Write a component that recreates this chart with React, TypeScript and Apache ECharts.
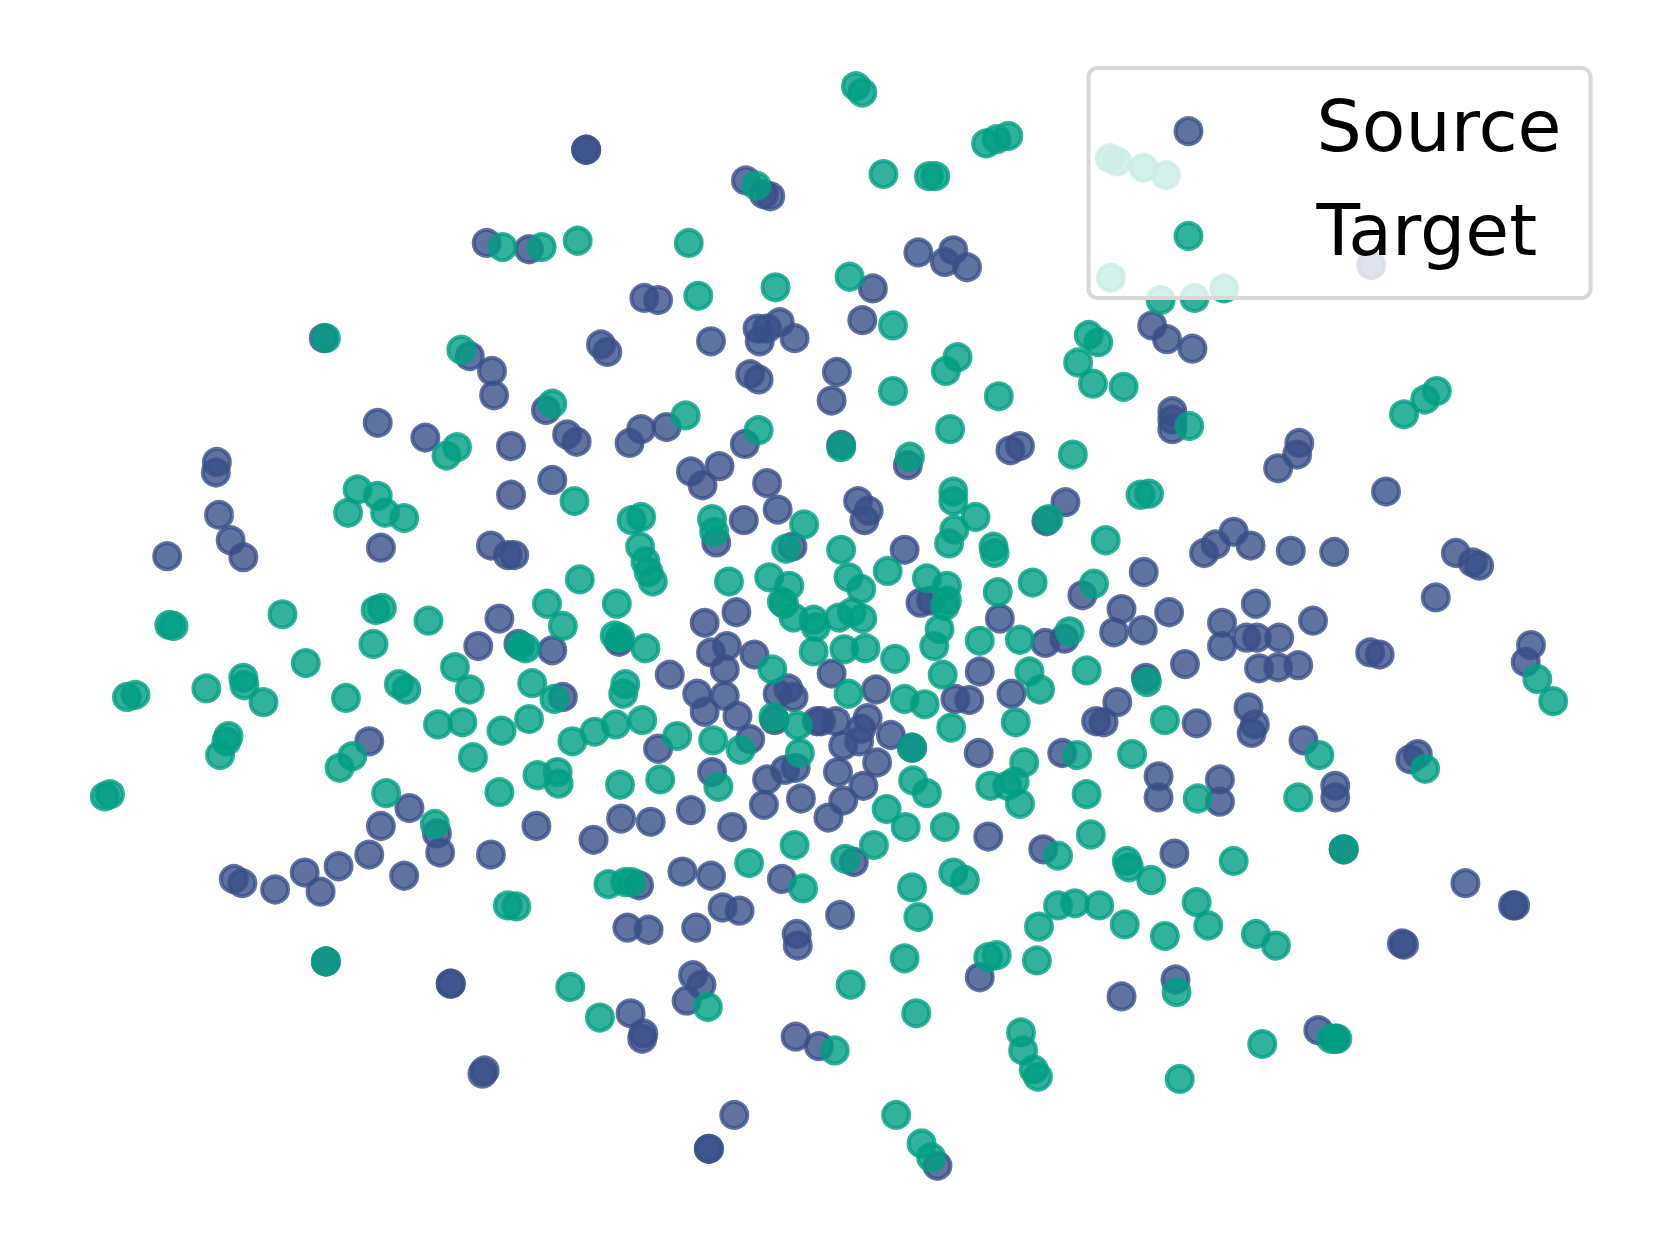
import React, { useEffect, useRef } from "react";
import * as echarts from "echarts";

const sourcePoints: number[][] = [
[554,141],[554,141],[705,170],[722,183],[728,185],[460,229],[500,235],[868,238],[901,236],[893,247],[914,252],[825,272],[609,281],[622,283],[1296,250],[815,302],[1089,307],[1103,320],[1127,329],[716,310],[737,304],[725,310],[718,322],[751,319],[672,322],[568,325],[574,332],[444,336],[465,350],[467,373],[709,353],[717,358],[791,351],[786,378],[516,387],[357,399],[402,413],[483,421],[536,410],[545,417],[595,418],[606,405],[630,403],[704,419],[795,420],[858,439],[955,425],[964,421],[1108,388],[1108,396],[1108,405],[1228,418],[1226,429],[1208,442],[205,436],[204,446],[653,445],[680,440],[664,458],[725,456],[522,453],[483,467],[1310,464],[811,473],[1007,474],[207,486],[735,481],[821,482],[817,491],[703,491],[218,510],[230,526],[158,525],[360,517],[464,515],[480,524],[486,524],[677,512],[749,516],[855,519],[1166,502],[1149,514],[1138,522],[1182,515],[1220,520],[1261,521],[1376,522],[1392,531],[1398,534],[1081,540],[1023,562],[870,569],[880,567],[1357,564],[1187,570],[1060,575],[1105,578],[1155,588],[1241,586],[945,584],[696,578],[666,588],[472,584],[1053,597],[1080,595],[1006,603],[988,607],[1155,610],[1178,602],[1188,602],[1209,602],[452,610],[585,606],[522,614],[490,608],[672,616],[687,610],[1295,616],[1304,618],[1447,609],[1442,625],[1120,627],[1190,631],[1208,630],[1227,628],[713,618],[685,632],[633,637],[786,636],[926,634],[1083,640],[659,655],[685,657],[828,651],[735,655],[750,658],[745,650],[956,655],[903,660],[916,661],[532,658],[1056,663],[1180,668],[666,672],[697,676],[732,680],[772,681],[776,681],[790,681],[820,678],[814,688],[1036,681],[1043,682],[1131,683],[1186,684],[1183,692],[349,700],[709,698],[842,694],[797,704],[812,700],[622,707],[1232,699],[862,706],[925,711],[1004,711],[1340,712],[1333,717],[829,720],[673,729],[742,727],[752,725],[792,729],[1095,733],[1153,736],[725,736],[1262,742],[1262,753],[1095,753],[1153,757],[757,754],[816,742],[797,756],[722,760],[653,765],[387,763],[360,780],[587,773],[615,776],[783,772],[692,781],[507,780],[413,787],[416,805],[561,793],[934,790],[349,807],[464,807],[986,802],[1110,806],[807,814],[320,818],[288,824],[382,827],[221,830],[229,834],[260,840],[303,842],[645,823],[672,827],[739,830],[604,836],[1385,834],[1270,802],[1430,855],[1432,855],[683,857],[699,860],[794,864],[593,876],[613,878],[658,876],[753,882],[754,893],[1325,891],[1327,892],[655,921],[663,930],[649,945],[926,923],[1111,925],[1060,941],[426,929],[426,929],[596,957],[608,976],[607,981],[752,979],[774,988],[1246,973],[1262,981],[458,1011],[456,1014],[694,1053],[670,1085],[670,1085],[886,1101],[306,319],[308,908],[989,492]
];

const targetPoints: number[][] = [
[809,81],[815,87],[932,135],[942,131],[953,128],[835,164],[878,166],[884,166],[1049,149],[1056,152],[1081,158],[1102,165],[715,175],[475,233],[512,233],[546,227],[651,229],[803,261],[733,271],[660,279],[1050,262],[1097,283],[1129,281],[1157,272],[844,307],[1029,316],[1038,323],[308,319],[436,330],[905,337],[894,350],[1019,342],[1033,362],[1062,365],[844,369],[944,374],[1358,369],[1347,377],[1327,391],[522,381],[648,392],[1124,402],[717,406],[898,405],[432,422],[422,430],[795,422],[1014,429],[860,431],[901,464],[901,473],[1078,467],[1086,466],[338,462],[357,468],[364,484],[329,484],[382,489],[543,473],[597,491],[606,488],[673,490],[675,502],[760,495],[922,488],[902,500],[897,513],[991,490],[1045,510],[605,516],[610,530],[613,540],[617,549],[743,518],[795,519],[939,516],[940,522],[548,547],[689,549],[727,545],[746,553],[802,545],[814,556],[839,539],[876,546],[895,553],[895,567],[893,572],[943,559],[976,550],[1034,551],[739,568],[750,583],[517,570],[583,570],[741,570],[769,585],[771,592],[793,583],[805,578],[815,584],[888,594],[267,580],[355,576],[361,574],[405,586],[532,591],[160,590],[164,591],[1011,596],[581,600],[586,602],[610,612],[353,608],[492,610],[497,612],[769,615],[798,613],[818,612],[883,610],[926,605],[964,604],[289,626],[430,630],[846,622],[730,632],[891,637],[973,634],[1027,633],[230,640],[231,647],[195,650],[377,646],[384,651],[444,651],[503,645],[591,646],[589,655],[983,651],[1084,644],[120,658],[128,656],[249,663],[327,659],[524,660],[802,655],[855,660],[874,665],[414,684],[437,682],[474,690],[500,679],[582,684],[607,680],[562,691],[541,700],[640,695],[731,677],[754,685],[674,699],[700,708],[756,711],[899,687],[960,682],[1101,680],[216,695],[214,700],[208,713],[321,725],[333,714],[447,715],[862,706],[1018,713],[1070,712],[1247,713],[1347,726],[968,720],[508,732],[527,729],[528,740],[624,736],[586,741],[679,743],[863,737],[876,749],[936,742],[952,742],[959,738],[964,759],[1027,750],[1132,754],[1227,753],[365,749],[472,748],[99,752],[104,750],[411,778],[838,764],[856,781],[893,781],[1031,788],[751,798],[826,798],[1270,802],[708,815],[799,811],[1000,808],[1065,813],[1067,819],[1088,831],[1166,813],[901,824],[912,831],[575,835],[591,833],[597,833],[759,839],[862,838],[480,855],[488,856],[1000,855],[1016,853],[1039,855],[1131,852],[868,866],[982,875],[1063,873],[1142,874],[1101,884],[1187,882],[1206,893],[308,908],[855,905],[934,904],[942,902],[980,907],[539,932],[804,930],[1112,937],[669,951],[567,961],[866,957],[965,975],[967,992],[1193,986],[1258,981],[1264,981],[789,992],[977,1010],[981,1017],[1115,1019],[847,1053],[871,1080],[880,1093],[1453,641],[1468,662]
];

const seriesNames = ["Source", "Target"];
const seriesFills = ["rgba(56,79,136,0.8)", "rgba(0,159,130,0.8)"];

export default function App() {
  const ref = useRef<HTMLDivElement>(null);
  useEffect(() => {
    const chart = echarts.init(ref.current!, undefined, { renderer: "svg" });
    const mk = (i: number, data: number[][]) => ({
      name: seriesNames[i],
      type: "scatter" as const,
      data,
      symbol: "circle",
      symbolSize: 26,
      silent: true,
      itemStyle: { color: seriesFills[i], borderColor: seriesFills[i], borderWidth: 4, opacity: 1 },
      emphasis: { disabled: true },
      z: 2 + i,
    });
    const legendEntry = (i: number, markerY: number, textY: number) => [
      {
        type: "circle",
        z: 101,
        silent: true,
        shape: { cx: 1188.5, cy: markerY, r: 13 },
        style: { fill: seriesFills[i], stroke: seriesFills[i], lineWidth: 4 },
      },
      {
        type: "text",
        z: 101,
        silent: true,
        x: 1316.6,
        y: textY,
        style: {
          text: seriesNames[i],
          font: "71.3px 'DejaVu Sans'",
          fill: "#000000",
          textAlign: "left",
          textVerticalAlign: "middle",
        },
      },
    ];
    chart.setOption({
      animation: false,
      backgroundColor: "#ffffff",
      grid: { left: 0, right: 0, top: 0, bottom: 0 },
      xAxis: { type: "value", min: 0, max: 1568, show: false },
      yAxis: { type: "value", min: -0.5, max: 1182.5, inverse: true, show: false },
      graphic: {
        elements: [
          {
            type: "rect",
            z: 100,
            silent: true,
            shape: { x: 1088.5, y: 68, width: 502, height: 230, r: 9 },
            style: { fill: "rgba(255,255,255,0.8)", stroke: "#d8d8d8", lineWidth: 4 },
          },
          ...legendEntry(0, 131.2, 126.4),
          ...legendEntry(1, 236, 230.6),
        ],
      },
      series: [mk(0, sourcePoints), mk(1, targetPoints)],
    });
    return () => chart.dispose();
  }, []);
  return <div ref={ref} style={{ position: "fixed", left: 0, top: 0, width: 1659, height: 1252 }} />;
}
